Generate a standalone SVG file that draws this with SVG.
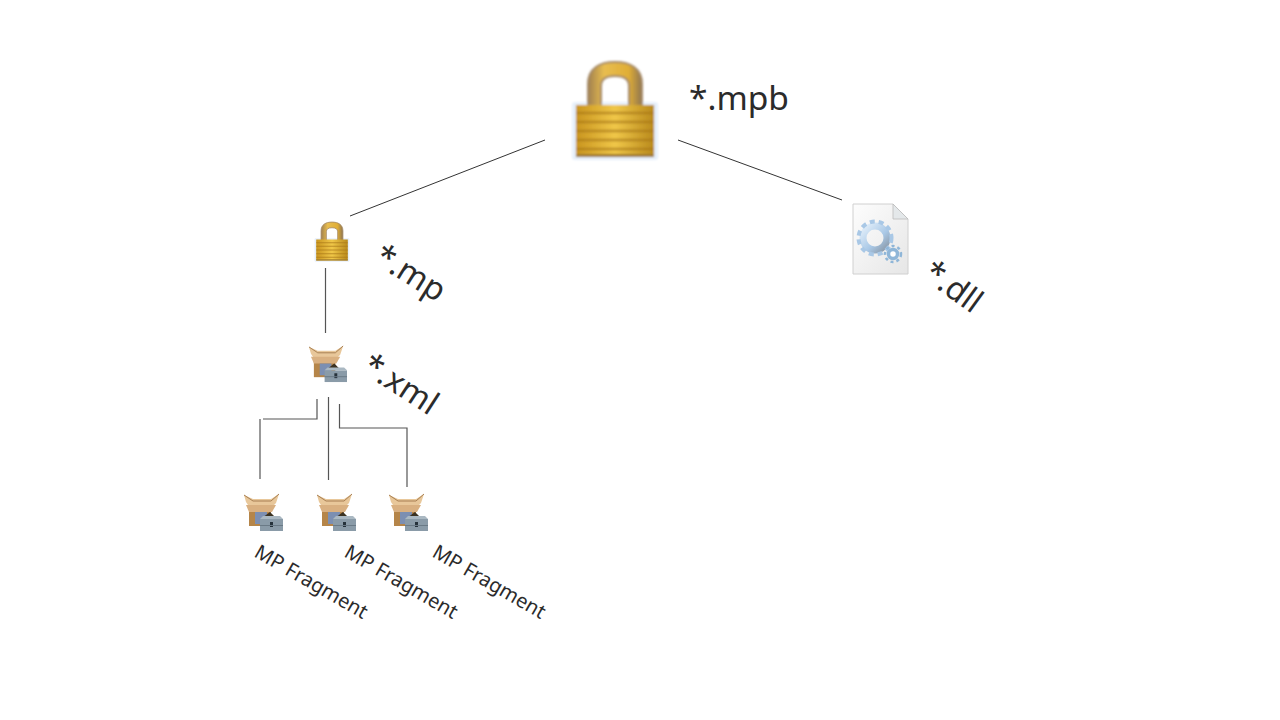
<svg xmlns="http://www.w3.org/2000/svg" width="1280" height="720" viewBox="0 0 1280 720">
<style>
.c{fill:none;stroke:#333;stroke-width:1}
.c2{fill:none;stroke:#555;stroke-width:1.2}
text{font-family:"Noto Sans","Open Sans","DejaVu Sans",sans-serif;fill:#2b2b2b}
.big{font-size:33.500px}
.mid{font-size:32.500px}
.sm{font-size:20px}
</style>
<defs>
<filter id="soft" x="-10%" y="-10%" width="120%" height="120%"><feGaussianBlur stdDeviation="0.8"/></filter>
<filter id="soft2" x="-10%" y="-10%" width="120%" height="120%"><feGaussianBlur stdDeviation="0.45"/></filter>
<linearGradient id="body" x1="0" x2="1" y1="0" y2="0"><stop offset="0" stop-color="#c9951f"/><stop offset=".5" stop-color="#f0c748"/><stop offset="1" stop-color="#b98a1c"/></linearGradient>
<linearGradient id="shack" x1="0" x2="1" y1="0" y2="0"><stop offset="0" stop-color="#a08050"/><stop offset=".3" stop-color="#e8bd50"/><stop offset=".75" stop-color="#e0ae36"/><stop offset="1" stop-color="#8f7550"/></linearGradient>
<linearGradient id="page" x1="0" x2="1" y1="0" y2="1"><stop offset="0" stop-color="#fdfdfd"/><stop offset="1" stop-color="#e6e6e6"/></linearGradient>
<linearGradient id="gear" x1="0" x2="1" y1="0" y2="1"><stop offset="0" stop-color="#e3effa"/><stop offset=".6" stop-color="#a9c8e6"/><stop offset="1" stop-color="#8a98a6"/></linearGradient>
<symbol id="lock" viewBox="0 0 84 100" overflow="visible">
<rect x="-1" y="42" width="86" height="58" rx="3" fill="#dbe8f8" opacity=".7"/>
<path d="M15 48V24C15 8 27 2 42 2S69 8 69 24V48H56V26C56 19 51 16 42 16S28 19 28 26V48Z" fill="url(#shack)" stroke="#a58a68" stroke-width="2"/>
<rect x="3" y="45" width="78" height="52" fill="url(#body)"/>
<g stroke="#a9781a" stroke-width="2.500" opacity=".7"><path d="M3 53H81M3 62H81M3 71H81M3 80H81M3 89H81"/></g>
<rect x="3" y="94" width="78" height="3" fill="#a07c30"/>
</symbol>
<symbol id="box" viewBox="0 0 40 40" overflow="visible">
<path d="M5 16H27V33H5Z" fill="#b58548"/>
<path d="M0 2L9 6H27L35 1L32 10L27 15H6L2 9Z" fill="#e8c79a"/>
<path d="M2 12H32L28 19H5Z" fill="#d9b081"/>
<path d="M0 2L9 8H27L35 1" stroke="#a87f52" stroke-width="1" fill="none"/>
<rect x="11" y="19" width="12" height="12" fill="#7c8fb2"/>
<path d="M18 25L26 19L31 24Z" fill="#3a3020"/>
<path d="M16 26H39V38H16Z" fill="#8a9ba8"/>
<path d="M16 26L19 23H36L39 26Z" fill="#aab8c2"/>
<rect x="26" y="29" width="3" height="5" fill="#26323a"/>
<rect x="16" y="32" width="23" height="1" fill="#6a7a86"/>
</symbol>
</defs>
<g id="connectors">
<path class="c" d="M545 140L350 216"/>
<path class="c" d="M678 140L842 200"/>
<path class="c2" d="M325.500 268V333"/>
<path class="c2" d="M260 419V479"/>
<path class="c2" d="M263 419H317V399"/>
<path class="c2" d="M328.500 397V480"/>
<path class="c2" d="M339.500 404V428H407V487"/>
</g>
<g id="node-mpb"><use href="#lock" x="573" y="60" width="84" height="100" filter="url(#soft)"/><text class="big" x="689" y="110">*.mpb</text></g>
<g id="node-dll">
<g filter="url(#soft2)">
<path d="M853 204H893L908 219V274H853Z" fill="url(#page)" stroke="#d0d0d0"/>
<path d="M893 204V219H908Z" fill="#e4e8ea" stroke="#bbb" stroke-width=".8"/>
<circle cx="875" cy="238" r="12" fill="none" stroke="url(#gear)" stroke-width="7"/>
<circle cx="875" cy="238" r="16.500" fill="none" stroke="#a9c8e6" stroke-width="4" stroke-dasharray="5 4"/>
<circle cx="893" cy="254" r="4.500" fill="#fff" stroke="#8fb6d8" stroke-width="3.500"/>
<circle cx="893" cy="254" r="8" fill="none" stroke="#8fb6d8" stroke-width="2.500" stroke-dasharray="3 3"/>
</g>
<text class="mid" transform="translate(921 277) rotate(36)">*.dll</text></g>
<g id="node-mp"><use href="#lock" x="315" y="221" width="34" height="41" filter="url(#soft2)"/><text class="mid" transform="translate(372 262) rotate(32)">*.mp</text></g>
<g id="node-xml"><use href="#box" x="309" y="345" width="39" height="39" filter="url(#soft2)"/><text class="mid" transform="translate(360 371) rotate(33)">*.xml</text></g>
<g id="node-frag1"><use href="#box" x="244" y="493" width="40" height="40" filter="url(#soft2)"/><text class="sm" transform="translate(253 556) rotate(30)">MP Fragment</text></g>
<g id="node-frag2"><use href="#box" x="317" y="493" width="40" height="40" filter="url(#soft2)"/><text class="sm" transform="translate(343 556) rotate(30)">MP Fragment</text></g>
<g id="node-frag3"><use href="#box" x="389" y="493" width="40" height="40" filter="url(#soft2)"/><text class="sm" transform="translate(431 556) rotate(30)">MP Fragment</text></g>
</svg>
